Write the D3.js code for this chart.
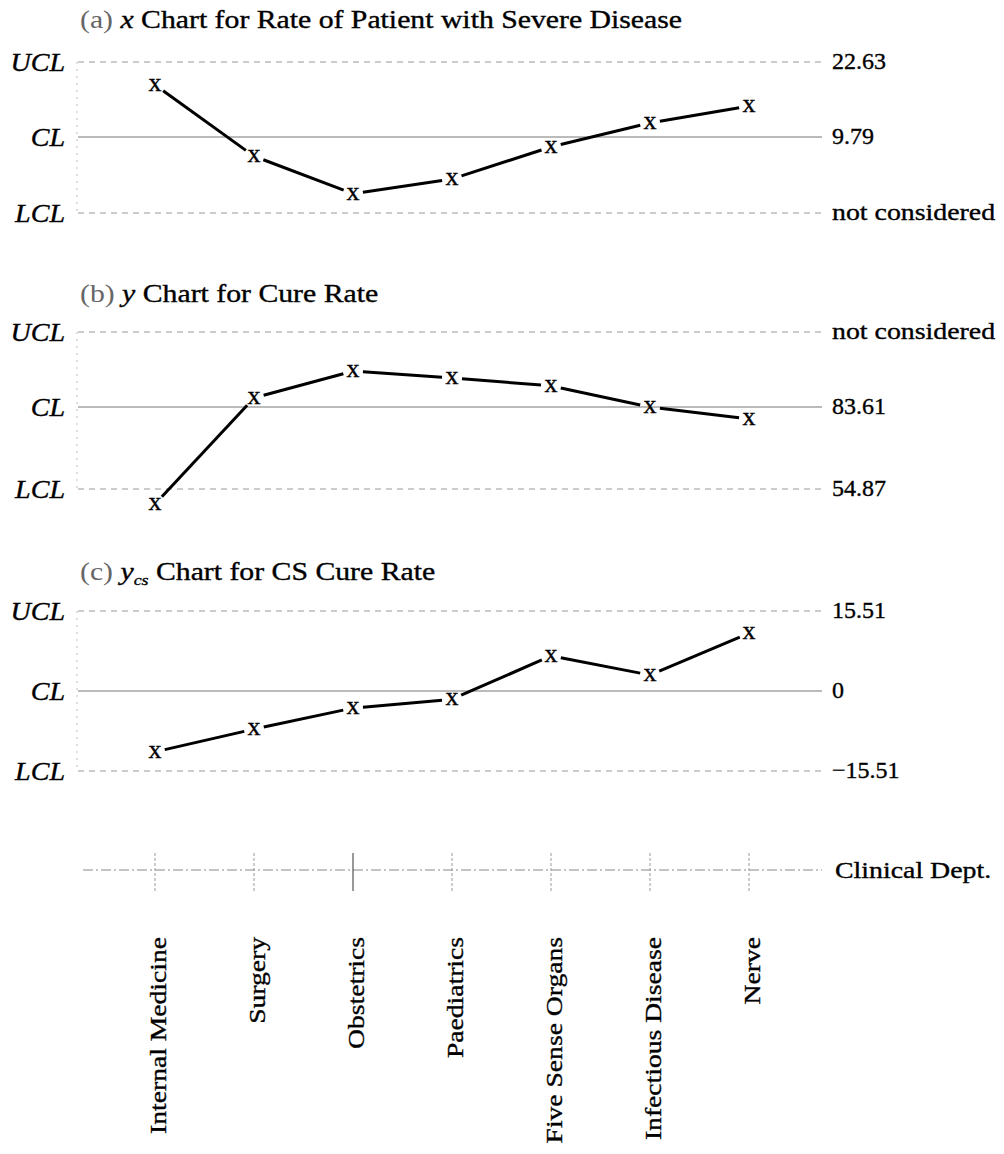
<!DOCTYPE html>
<html>
<head>
<meta charset="utf-8">
<script src="https://cdn.jsdelivr.net/npm/d3@7/dist/d3.min.js"></script>
<style>
  body { margin: 0; background: #fff; }
  svg text { font-family: "Liberation Serif", "Times New Roman", serif; fill: #000; stroke: #000; stroke-width: 0.35px; }
</style>
</head>
<body>
<svg id="chart" width="1004" height="1154"></svg>
<script>
const departments = ['Internal Medicine', 'Surgery', 'Obstetrics', 'Paediatrics',
  'Five Sense Organs', 'Infectious Disease', 'Nerve'];

// values
const severeRate = [18.7, 6.5, 0.1, 2.6, 8.1, 12.2, 15.1];
const cureRate = [49.6, 86.8, 96.2, 93.8, 91.0, 83.6, 79.4];
const csCureRate = [-11.8, -7.4, -3.3, -1.6, 6.8, 3.1, 11.2];

// UCL, CL, LCL (null = not considered)
const severeLimits = [22.63, 9.79, null];
const cureLimits = [null, 83.61, 54.87];
const csLimits = [15.51, 0, -15.51];
const limitNames = ['UCL', 'CL', 'LCL'];

const svg = d3.select('#chart');
const left = 78, right = 822;

const x = d3.scalePoint()
  .domain(departments)
  .range([155, 749]);

const panels = [
  { tag: '(a) ', sym: 'x', sub: null, rest: ' Chart for Rate of Patient with Severe Disease',
    values: severeRate, limits: severeLimits, ys: [62, 137, 213], titleY: 28 },
  { tag: '(b) ', sym: 'y', sub: null, rest: ' Chart for Cure Rate',
    values: cureRate, limits: cureLimits, ys: [332, 407, 489], titleY: 302 },
  { tag: '(c) ', sym: 'y', sub: 'cs', rest: ' Chart for CS Cure Rate',
    values: csCureRate, limits: csLimits, ys: [611, 691, 771], titleY: 580 }
];

function fmt(v) {
  if (v === null) return 'not considered';
  if (v === 0) return '0';
  return (v < 0 ? '\u2212' : '') + Math.abs(v).toFixed(2);
}

panels.forEach(p => {
  // scale from the two known limits
  const known = p.limits.map((v, i) => [v, p.ys[i]]).filter(d => d[0] !== null);
  const y = d3.scaleLinear()
    .domain([known[0][0], known[known.length - 1][0]])
    .range([known[0][1], known[known.length - 1][1]]);

  const g = svg.append('g');

  const title = g.append('text')
    .attr('transform', `translate(80,${p.titleY}) scale(1.19,1)`)
    .style('font-size', '25px');
  title.append('tspan').text(p.tag).style('fill', '#666').style('stroke', 'none');
  title.append('tspan').text(p.sym).style('font-style', 'italic');
  if (p.sub) {
    title.append('tspan').text(p.sub)
      .style('font-style', 'italic').style('font-size', '15px').attr('dy', 5);
    title.append('tspan').text(p.rest).attr('dy', -5);
  } else {
    title.append('tspan').text(p.rest);
  }

  // faint vertical axis
  g.append('line')
    .attr('x1', left - 1).attr('x2', left - 1)
    .attr('y1', p.ys[0]).attr('y2', p.ys[2])
    .attr('stroke', '#bbb').attr('stroke-width', 1)
    .attr('stroke-dasharray', '2,5');

  p.ys.forEach((ly, i) => {
    g.append('line')
      .attr('x1', left).attr('x2', right)
      .attr('y1', ly).attr('y2', ly)
      .attr('stroke', i === 1 ? '#777' : '#999')
      .attr('stroke-width', 1)
      .attr('stroke-dasharray', i === 1 ? null : '6,5');

    g.append('text')
      .attr('transform', `translate(65,${ly + 9}) scale(1.08,1)`)
      .attr('text-anchor', 'end')
      .style('font-style', 'italic')
      .style('font-size', '26px')
      .text(limitNames[i]);

    g.append('text')
      .attr('transform', `translate(832,${ly + 7}) scale(${p.limits[i] === null ? 1.16 : 1},1)`)
      .style('font-size', '24px')
      .text(fmt(p.limits[i]));
  });

  const pts = p.values.map((v, i) => [x(departments[i]), y(v)]);

  // line segments stop short of the x markers
  const gap = 10;
  g.selectAll('.seg')
    .data(d3.pairs(pts))
    .enter().append('line')
    .attr('class', 'seg')
    .each(function(d) {
      const [a, b] = d;
      const len = Math.hypot(b[0] - a[0], b[1] - a[1]);
      const ux = (b[0] - a[0]) / len, uy = (b[1] - a[1]) / len;
      d3.select(this)
        .attr('x1', a[0] + ux * gap).attr('y1', a[1] + uy * gap)
        .attr('x2', b[0] - ux * gap).attr('y2', b[1] - uy * gap);
    })
    .attr('stroke', '#000')
    .attr('stroke-width', 3);

  g.selectAll('.mark')
    .data(pts)
    .enter().append('text')
    .attr('class', 'mark')
    .attr('x', d => d[0])
    .attr('y', d => d[1] + 6)
    .attr('text-anchor', 'middle')
    .style('font-size', '26px')
    .text('x');
});

// department axis
const axisY = 870;
const ax = svg.append('g');
ax.append('line')
  .attr('x1', 83).attr('x2', right)
  .attr('y1', axisY).attr('y2', axisY)
  .attr('stroke', '#888').attr('stroke-width', 1)
  .attr('stroke-dasharray', '10,3,2,3');

ax.selectAll('.tick')
  .data(departments)
  .enter().append('line')
  .attr('x1', d => x(d)).attr('x2', d => x(d))
  .attr('y1', axisY - 17).attr('y2', axisY + 21)
  .attr('stroke', d => d === 'Obstetrics' ? '#333' : '#999')
  .attr('stroke-width', 1)
  .attr('stroke-dasharray', d => d === 'Obstetrics' ? null : '3,2');

ax.append('text')
  .attr('transform', `translate(835,${axisY + 8}) scale(1.16,1)`)
  .style('font-size', '24px')
  .text('Clinical Dept.');

ax.selectAll('.dept')
  .data(departments)
  .enter().append('text')
  .attr('class', 'dept')
  .attr('transform', d => `translate(${x(d)},937) rotate(-90) scale(1.15,1)`)
  .attr('text-anchor', 'end')
  .attr('dy', '0.45em')
  .style('font-size', '24px')
  .text(d => d);
</script>
</body>
</html>
